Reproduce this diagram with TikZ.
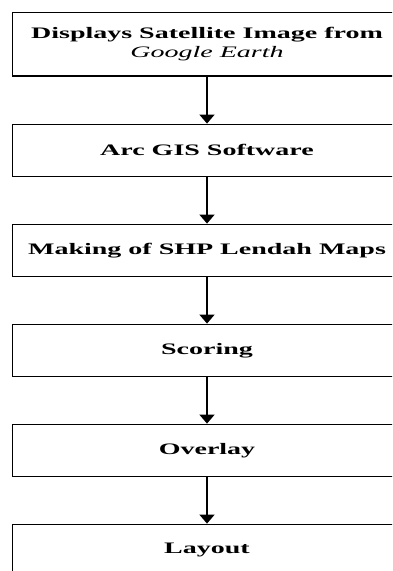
\documentclass[tikz,border=0pt]{standalone}
\usepackage{fontspec}
\setmainfont[FakeStretch=1.75]{Liberation Serif}
\usetikzlibrary{arrows.meta}

\begin{document}
\begin{tikzpicture}[->,>={Triangle[width=15pt,length=9pt]},line width=1.6pt,node distance=100pt,
    step node/.style={rectangle,draw,line width=1.3pt,minimum width=389pt,minimum height=52pt,inner sep=0pt,align=center,font=\fontsize{16}{18.5}\selectfont\bfseries}]
            \path[use as bounding box,clip] (0,0) rectangle (392pt,-571pt);

            \node[step node, minimum height=63.5pt] (1) at (207pt,-44.25pt) {Displays Satellite Image from\\{\mdseries\itshape Google Earth}};
            \node[step node] (2) [below of = 1, yshift = -6pt]{Arc GIS Software};
            \node[step node] (3) [below of = 2]{Making of SHP Lendah Maps};
            \node[step node] (4) [below of = 3]{Scoring};
            \node[step node] (5) [below of = 4]{Overlay};
            \node[step node] (6) [below of = 5]{Layout};

            \path
                (1) edge (2)
                (2) edge (3)
                (3) edge (4)
                (4) edge (5)
                (5) edge (6)
            ;
\end{tikzpicture}
\end{document}
